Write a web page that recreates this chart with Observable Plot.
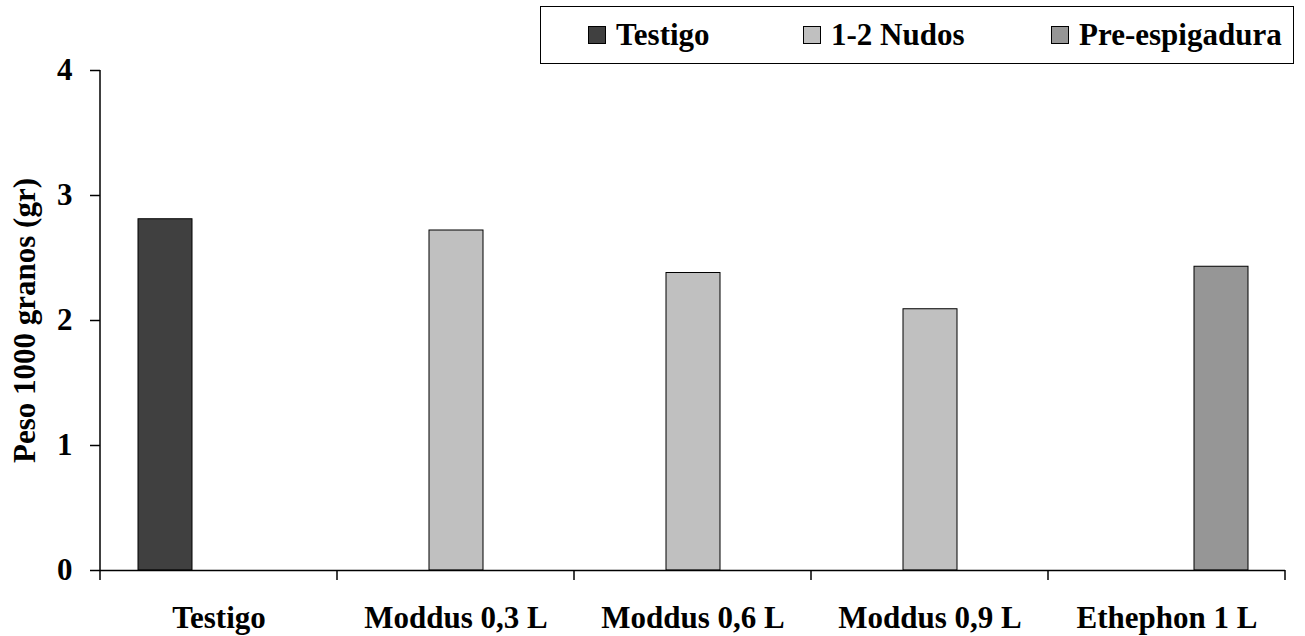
<!DOCTYPE html>
<html>
<head>
<meta charset="utf-8">
<script src="https://cdn.jsdelivr.net/npm/d3@7"></script>
<script src="https://cdn.jsdelivr.net/npm/@observablehq/plot@0.6"></script>
<style>
  html, body { margin: 0; padding: 0; background: #fff; }
  #wrap { position: relative; width: 1305px; height: 636px; font-family: "Liberation Serif", "Times New Roman", serif; font-weight: bold; }
  #legend { position: absolute; left: 540px; top: 6px; width: 754px; height: 58px; border: 1.5px solid #000; box-sizing: border-box; background: #fff; }
  .item { position: absolute; top: 0; height: 100%; display: flex; align-items: center; font-size: 31px; color: #000; }
  .sw { width: 16px; height: 16px; border: 1px solid #000; margin-right: 10px; }
  svg g[aria-label="fx-axis tick label"] text { font-size: 31px; }
  svg g[aria-label="y-axis label"] text { font-size: 31px; }
</style>
</head>
<body>
<div id="wrap"></div>
<script>
const categories = ["Testigo", "Moddus 0,3 L", "Moddus 0,6 L", "Moddus 0,9 L", "Ethephon 1 L"];
const seriesNames = ["Testigo", "1-2 Nudos", "Pre-espigadura"];
const seriesColors = ["#404040", "#c0c0c0", "#969696"];
const barSeries = ["Testigo", "1-2 Nudos", "1-2 Nudos", "1-2 Nudos", "Pre-espigadura"];
const values = [2.81, 2.72, 2.38, 2.09, 2.43];
const yTicks = [0, 1, 2, 3, 4];
const yLabel = "Peso 1000 granos (gr)";

const rows = categories.map((c, i) => ({cat: c, series: barSeries[i], value: values[i]}));

const chart = Plot.plot({
  width: 1305,
  height: 636,
  marginLeft: 100,
  marginRight: 20,
  marginTop: 70,
  marginBottom: 66,
  style: {fontFamily: "'Liberation Serif', 'Times New Roman', serif", fontWeight: "bold", fontSize: "31px", color: "#000", background: "#fff"},
  fx: {domain: categories, padding: 0, axis: null},
  x: {domain: seriesNames, paddingInner: 0, paddingOuter: 0.694, axis: null},
  y: {domain: [0, 4], axis: null},
  color: {domain: seriesNames, range: seriesColors},
  marks: [
    Plot.barY(rows, {fx: "cat", x: "series", y: "value", fill: "series", stroke: "#000", strokeWidth: 1}),
    Plot.ruleY([0], {stroke: "#000", strokeWidth: 1.5}),
    Plot.axisY({ticks: yTicks, tickSize: 10, tickPadding: 18, tickFormat: d => d, stroke: "#000", strokeWidth: 1.5,
      label: yLabel, labelAnchor: "center", labelArrow: "none", labelOffset: 88}),
    Plot.axisFx({anchor: "bottom", tickSize: 0, tickPadding: 35, label: null})
  ]
});

document.getElementById("wrap").appendChild(chart);

// Axis line and category boundary ticks, positioned via Plot's own scales
const fx = chart.scale("fx");
const y = chart.scale("y");
const svg = d3.select(chart);
const bounds = categories.map(c => fx.apply(c)).concat([fx.apply(categories[categories.length - 1]) + fx.bandwidth]);
const g = svg.append("g").attr("stroke", "#000").attr("stroke-width", 1.5);
g.append("line")
  .attr("x1", bounds[0]).attr("x2", bounds[0])
  .attr("y1", y.apply(0)).attr("y2", y.apply(4));
g.selectAll("line.b").data(bounds).join("line").attr("class", "b")
  .attr("x1", d => d).attr("x2", d => d)
  .attr("y1", y.apply(0)).attr("y2", y.apply(0) + 10);

// Legend (HTML, above the SVG)
const legend = d3.select("#wrap").append("div").attr("id", "legend");
const itemLefts = [47, 262, 510];
seriesNames.forEach((s, i) => {
  const it = legend.append("div").attr("class", "item").style("left", itemLefts[i] + "px");
  it.append("div").attr("class", "sw").style("background", seriesColors[i]);
  it.append("span").text(s);
});
</script>
</body>
</html>
